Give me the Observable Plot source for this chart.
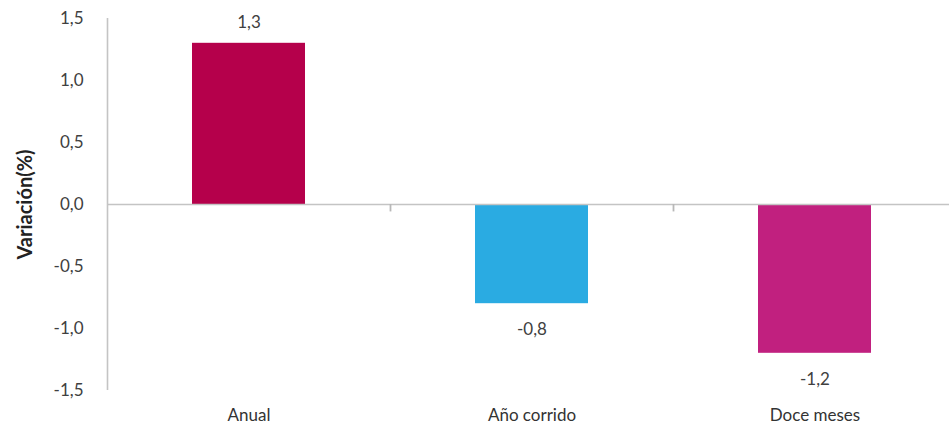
<!DOCTYPE html>
<html>
<head>
<meta charset="utf-8">
<script src="https://cdn.jsdelivr.net/npm/d3@7"></script>
<script src="https://cdn.jsdelivr.net/npm/@observablehq/plot@0.6"></script>
<style>
  html, body { margin: 0; padding: 0; background: #fff; }
  #chart svg { display: block; }
  g[aria-label="y-axis label"] text { font-weight: bold; font-size: 20px; fill: #222; }
</style>
</head>
<body>
<div id="chart"></div>
<script>
const categories = ["Anual", "Año corrido", "Doce meses"];
const values = [1.3, -0.8, -1.2];
const colors = ["#B5004B", "#2AABE2", "#C1207F"];
const yTicks = [-1.5, -1.0, -0.5, 0.0, 0.5, 1.0, 1.5];

const data = categories.map((c, i) => ({category: c, value: values[i], color: colors[i]}));
const pos = data.filter(d => d.value >= 0);
const neg = data.filter(d => d.value < 0);
const fmt = v => d3.format(".1f")(v).replace(".", ",").replace("−", "-");

const xRange = [107, 956];
const step = (xRange[1] - xRange[0]) / categories.length;
const font = "Lato, 'Open Sans', sans-serif";

const chart = Plot.plot({
  width: 949,
  height: 433,
  marginLeft: 107,
  marginRight: 0,
  marginTop: 18,
  marginBottom: 43,
  style: {fontFamily: font, fontSize: "17px", color: "#404040", background: "#fff"},
  x: {domain: categories, range: xRange, paddingInner: 0.6, paddingOuter: 0.3, label: null},
  y: {type: "linear", domain: [-1.5, 1.5], ticks: yTicks, tickFormat: fmt, label: null},
  marks: [
    Plot.barY(data, {x: "category", y: "value", fill: d => d.color}),
    Plot.ruleY([0], {stroke: "#c4c4c4", strokeWidth: 1.6}),
    Plot.ruleX(categories.slice(1), {x: d => d, dx: -step / 2, y1: 0, y2: -0.06, stroke: "#b8b8b8", strokeWidth: 1.8}),
    Plot.ruleX(categories.slice(0, 1), {x: d => d, dx: -step / 2, y1: -1.5, y2: 1.5, stroke: "#c4c4c4", strokeWidth: 1.6}),
    Plot.axisY({ticks: yTicks, tickFormat: fmt, tickSize: 0, tickPadding: 24, fontSize: 17, fill: "#404040",
      label: "Variación(%)", labelAnchor: "center", labelArrow: "none", labelOffset: 90}),
    Plot.axisX({tickSize: 0, tickPadding: 18, fontSize: 17, fill: "#333", label: null}),
    Plot.text(pos, {x: "category", y: "value", text: d => fmt(d.value), dy: -21, fontSize: 17, fill: "#404040"}),
    Plot.text(neg, {x: "category", y: "value", text: d => fmt(d.value), dy: 26, fontSize: 17, fill: "#404040"})
  ]
});
document.getElementById("chart").appendChild(chart);
</script>
</body>
</html>
